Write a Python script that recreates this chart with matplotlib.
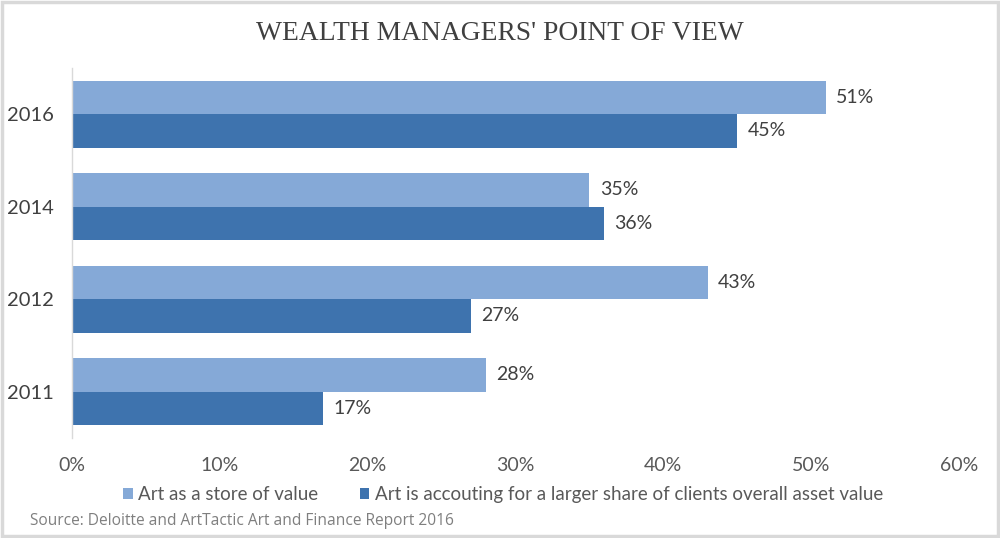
import matplotlib
matplotlib.use("Agg")
import matplotlib.pyplot as plt
from matplotlib.patches import Rectangle

years = ["2011", "2012", "2014", "2016"]
store_of_value = [28, 43, 35, 51]
larger_share = [17, 27, 36, 45]
xticks = [0, 10, 20, 30, 40, 50, 60]
series_names = ["Art as a store of value",
                "Art is accouting for a larger share of clients overall asset value"]
title = "WEALTH MANAGERS' POINT OF VIEW"
source = "Source: Deloitte and ArtTactic Art and Finance Report 2016"

light = "#85a9d7"
dark = "#3e73ae"
txt = "#404040"

fig = plt.figure(figsize=(10, 5.38), dpi=100)
fig.patches.append(Rectangle((0.002, 0.004), 0.996, 0.992, transform=fig.transFigure,
                             fill=False, edgecolor="#d9d9d9", linewidth=2.5))
ax = fig.add_axes([0.072, 0.186, 0.887, 0.688])

ypos = list(range(len(years)))
h = 0.362
ax.barh([y + h / 2 for y in ypos], store_of_value, height=h, color=light, label=series_names[0])
ax.barh([y - h / 2 for y in ypos], larger_share, height=h, color=dark, label=series_names[1])

for y, v in zip(ypos, store_of_value):
    ax.text(v + 0.7, y + h / 2, f"{v}%", va="center", ha="left", fontsize=14,
            color=txt, family="Lato")
for y, v in zip(ypos, larger_share):
    ax.text(v + 0.7, y - h / 2, f"{v}%", va="center", ha="left", fontsize=14,
            color=txt, family="Lato")

ax.set_xlim(0, 60)
ax.set_ylim(-0.5, 3.5)
ax.set_yticks(ypos)
ax.set_yticklabels(years, fontsize=14.5, color=txt, family="Lato")
ax.set_xticks(xticks)
ax.set_xticklabels([f"{t}%" for t in xticks], fontsize=14, color="#595959",
                   family="Lato")
ax.tick_params(axis="both", length=0)
ax.tick_params(axis="x", pad=14)
ax.tick_params(axis="y", pad=13)
for s in ["top", "right", "bottom"]:
    ax.spines[s].set_visible(False)
ax.spines["left"].set_color("#d9d9d9")
ax.spines["left"].set_linewidth(1)

handles, labels = ax.get_legend_handles_labels()
fig.legend(handles, labels, loc="center", bbox_to_anchor=(0.503, 0.081), ncol=2,
           frameon=False, handlelength=0.5, handleheight=0.5, handletextpad=0.3,
           columnspacing=2.2, prop={"family": "Lato", "size": 13.5},
           labelcolor="#595959")

fig.text(0.5, 0.937, title, ha="center", va="center", fontsize=19.8,
         family="Liberation Serif", color="#404040")
fig.text(0.03, 0.031, source, ha="left", va="center", fontsize=11.2,
         family="Open Sans", color="#7f7f7f")

fig.savefig("out.png", dpi=100)
